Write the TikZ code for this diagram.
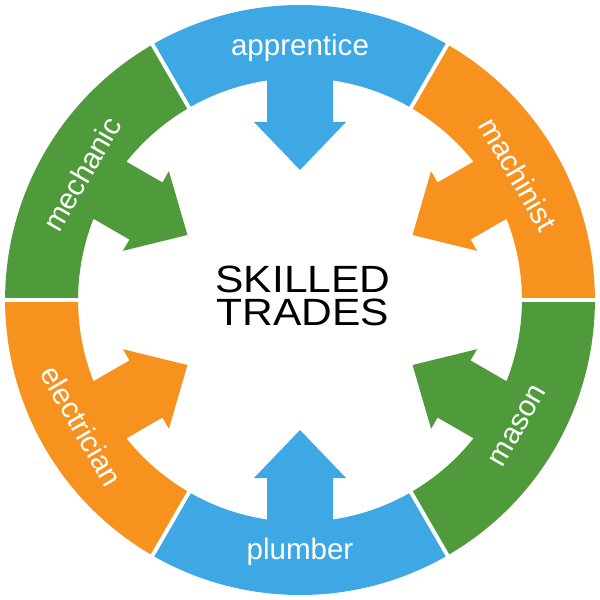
\documentclass[tikz,border=0pt]{standalone}
\usepackage{fontspec}
\setmainfont{Liberation Sans}
\definecolor{tradeblue}{HTML}{3DA8E4}
\definecolor{tradeorange}{HTML}{F7921F}
\definecolor{tradegreen}{HTML}{4F9B3C}
\tikzset{
  seglabel/.style={text=white,font=\fontsize{21}{24}\selectfont},
  gapline/.style={draw=white,line width=2.8pt}
}
\begin{document}
\begin{tikzpicture}[scale=0.025]
  \useasboundingbox (-300,-300) rectangle (300,300);
  \foreach \a/\rot/\col/\word in {90/0/tradeblue/apprentice,
      30/-60/tradeorange/machinist,
      -30/60/tradegreen/mason,
      -90/0/tradeblue/plumber,
      -150/-60/tradeorange/electrician,
      150/60/tradegreen/mechanic}{
    \begin{scope}[rotate=\a]
      \path[fill=\col] (-30:295) arc[start angle=-30,end angle=30,radius=295]
        -- (30:222) arc[start angle=30,end angle=8.55,radius=222]
        -- (178,33) -- (178,46) -- (130,0) -- (178,-46) -- (178,-33)
        -- (-8.55:222) arc[start angle=-8.55,end angle=-30,radius=222] -- cycle;
    \end{scope}
    \path (\a:252) node[seglabel,rotate=\rot] (\word) {\word};
  }
  \foreach \b in {0,60,...,300}
    \path[gapline] (\b:212) -- (\b:305);
  \path (3,4) node[align=center,xscale=1.12,
    font=\fontsize{27}{24}\selectfont] (title) {SKILLED\\TRADES};
\end{tikzpicture}
\end{document}
